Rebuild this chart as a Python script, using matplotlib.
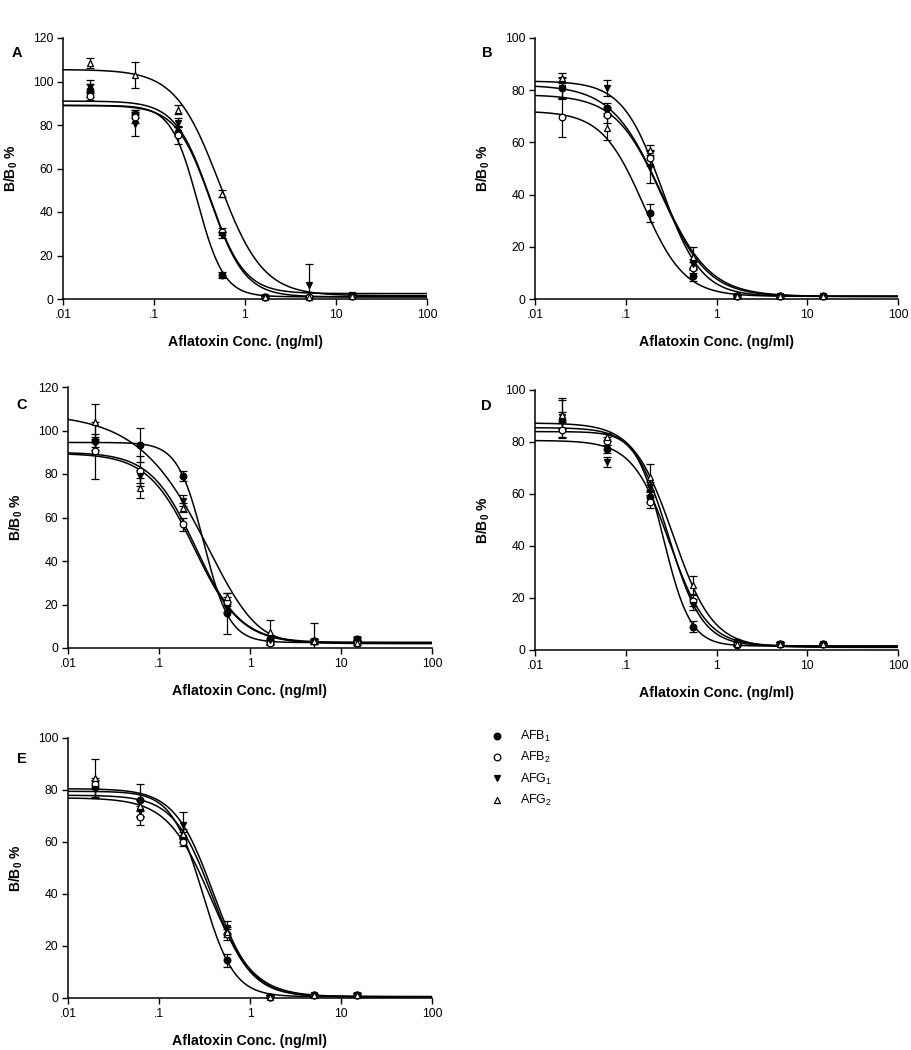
import matplotlib.pyplot as plt
import numpy as np
from matplotlib.lines import Line2D

# Aflatoxin standards (ng/ml), 3-fold dilutions
conc = [0.02, 0.0617, 0.185, 0.556, 1.67, 5.0, 15.0]
toxins = ['AFB$_1$', 'AFB$_2$', 'AFG$_1$', 'AFG$_2$']

# B/B0 % means and SD, rows = AFB1, AFB2, AFG1, AFG2
A_means = [[96.0, 85.0, 77.0, 11.0, 1.0, 1.0, 1.5],
           [93.3, 83.7, 75.4, 31.0, 1.0, 0.8, 1.5],
           [97.5, 80.5, 81.0, 29.5, 1.0, 6.3, 1.7],
           [108.5, 103.0, 87.0, 48.5, 1.0, 0.8, 1.5]]
A_errs = [[3, 2, 2, 1.5, 0.5, 0.5, 0.5],
          [2, 3, 4, 1.5, 0.5, 0.5, 0.5],
          [3, 5.5, 2, 1.5, 0.5, 10, 0.5],
          [2.5, 6, 2, 1.5, 0.5, 0.5, 0.5]]

B_means = [[80.8, 73.2, 33.0, 9.0, 1.0, 1.2, 1.2],
           [69.7, 70.5, 54.0, 12.0, 1.0, 1.0, 1.0],
           [81.0, 80.8, 50.6, 13.5, 1.0, 1.0, 1.0],
           [84.7, 65.5, 57.0, 16.0, 1.0, 1.0, 1.0]]
B_errs = [[4, 2, 3.5, 2, 0.5, 0.5, 0.5],
          [7.5, 3, 3, 2, 0.5, 0.5, 0.5],
          [4, 3, 6, 2, 0.5, 0.5, 0.5],
          [2, 4.5, 2, 4, 0.5, 0.5, 0.5]]

C_means = [[95.2, 93.3, 79.1, 16.0, 3.0, 3.2, 4.0],
           [90.7, 81.5, 57.0, 21.3, 2.5, 3.0, 2.5],
           [94.2, 79.0, 67.7, 18.4, 3.7, 3.0, 4.0],
           [104.0, 73.6, 64.5, 23.3, 7.5, 3.2, 2.5]]
C_errs = [[3, 8, 2.5, 9.5, 1, 1, 1],
          [13, 7, 3, 2, 1, 1, 1],
          [3, 3, 2.5, 2, 1, 1, 1],
          [8, 4.5, 2, 2, 5.5, 8.5, 1]]

D_means = [[88.5, 77.2, 59.0, 9.0, 2.0, 2.5, 2.3],
           [84.6, 80.5, 57.0, 19.0, 2.5, 2.5, 2.3],
           [89.5, 72.4, 62.8, 17.5, 3.0, 2.5, 2.3],
           [90.5, 82.0, 66.7, 25.0, 2.5, 2.5, 2.3]]
D_errs = [[3, 1.5, 2, 2, 0.5, 0.5, 0.5],
          [3, 1.5, 2.5, 2, 0.5, 0.5, 0.5],
          [7.5, 2, 2, 2, 0.5, 0.5, 0.5],
          [5.5, 1.5, 5, 3.5, 0.5, 0.5, 0.5]]

E_means = [[81.0, 76.0, 62.0, 14.5, 0.5, 1.0, 1.3],
           [82.5, 69.5, 60.0, 24.5, 0.5, 1.0, 1.3],
           [80.5, 72.0, 66.5, 27.0, 0.5, 1.0, 1.3],
           [84.5, 74.0, 63.0, 25.5, 0.5, 1.0, 1.3]]
E_errs = [[3, 6.5, 2, 2.5, 0.5, 0.5, 0.5],
          [2, 3, 1.5, 2, 0.5, 0.5, 0.5],
          [3, 2, 5, 2.5, 0.5, 0.5, 0.5],
          [7.5, 2, 2, 2, 0.5, 0.5, 0.5]]

# fitted logistic curves: top, bottom, IC50, slope, asymmetry
A_fits = [[89.0, 1.0, 0.30, 3.0, 1.0],
          [89.0, 1.0, 0.42, 2.3, 1.0],
          [91.0, 2.5, 0.41, 2.3, 1.0],
          [105.5, 1.5, 0.52, 1.8, 1.0]]
B_fits = [[72.0, 1.0, 0.155, 1.9, 1.0],
          [78.3, 1.0, 0.25, 1.7, 1.0],
          [83.5, 1.0, 0.25, 2.0, 1.0],
          [82.0, 1.0, 0.24, 1.6, 1.0]]
C_fits = [[94.5, 2.5, 0.31, 3.05, 1.0],
          [90.0, 2.5, 0.253, 1.76, 1.0],
          [108.0, 2.5, 1.79, 1.0, 5.0],
          [89.5, 2.0, 0.245, 1.7, 1.0]]
D_fits = [[84.0, 1.5, 0.261, 2.94, 1.0],
          [80.6, 1.5, 0.306, 2.11, 1.0],
          [85.5, 1.5, 0.298, 2.33, 1.0],
          [87.3, 1.0, 0.333, 1.98, 1.0]]
E_fits = [[79.5, 0.5, 0.303, 2.53, 1.0],
          [77.0, 0.5, 0.368, 1.82, 1.0],
          [80.5, 0.5, 0.394, 2.04, 1.0],
          [78.0, 0.5, 0.385, 2.04, 1.0]]

plt.rcParams['font.family'] = 'Liberation Sans'
plt.rcParams['mathtext.fontset'] = 'custom'
plt.rcParams['mathtext.rm'] = 'Liberation Sans'
plt.rcParams['mathtext.it'] = 'Liberation Sans:italic'
plt.rcParams['mathtext.bf'] = 'Liberation Sans:bold'


def logistic(x, top, bottom, ic50, slope, asym):
    return bottom + (top - bottom) / (1 + (x / ic50) ** slope) ** asym


marker_style = [('o', 'black'), ('o', 'white'), ('v', 'black'), ('^', 'white')]

W, H = 912, 1050
fig = plt.figure(figsize=(W / 100, H / 100), dpi=100)


def px_rect(left, top, right, bottom):
    return [left / W, 1 - bottom / H, (right - left) / W, (bottom - top) / H]


panels = [
    ('A', px_rect(63, 38, 427, 299), 120, A_means, A_errs, A_fits, (17, 53)),
    ('B', px_rect(535, 38, 898, 299), 100, B_means, B_errs, B_fits, (487, 53)),
    ('C', px_rect(68, 387, 432, 648), 120, C_means, C_errs, C_fits, (22, 405)),
    ('D', px_rect(535, 390, 898, 650), 100, D_means, D_errs, D_fits, (486, 406)),
    ('E', px_rect(68, 738, 432, 998), 100, E_means, E_errs, E_fits, (22, 759)),
]

xfit = np.logspace(-2, 2, 500)

for letter, rect, ymax, means, errs, fits, lpos in panels:
    ax = fig.add_axes(rect)
    for (mk, fc), m, e, p in zip(marker_style, means, errs, fits):
        ax.plot(xfit, logistic(xfit, *p), color='black', lw=1.1, zorder=2)
        line, caps, bars = ax.errorbar(conc, m, yerr=e, fmt=mk, ms=4.8, mfc=fc,
                                       mec='black', mew=0.9, ecolor='black',
                                       elinewidth=0.9, capsize=3, capthick=0.9,
                                       zorder=3)
        line.set_clip_on(False)
    ax.set_xscale('log')
    ax.set_xlim(0.01, 100)
    ax.set_ylim(0, ymax)
    ax.set_xticks([0.01, 0.1, 1, 10, 100])
    ax.set_xticklabels(['.01', '.1', '1', '10', '100'])
    ax.xaxis.set_minor_locator(plt.NullLocator())
    ax.set_yticks(np.arange(0, ymax + 1, 20))
    ax.tick_params(direction='out', length=4, width=1, labelsize=8.8, pad=3)
    for s in ['top', 'right']:
        ax.spines[s].set_visible(False)
    for s in ['left', 'bottom']:
        ax.spines[s].set_linewidth(1.1)
    ax.set_xlabel('Aflatoxin Conc. (ng/ml)', fontsize=10.2, fontweight='bold')
    ax.set_ylabel(r'B/B$_\mathbf{0}$ %', fontsize=10, fontweight='bold')
    ax.xaxis.set_label_coords(0.5, -0.138)
    ax.yaxis.set_label_coords(-0.118, 0.5)
    fig.text(lpos[0] / W, 1 - lpos[1] / H, letter, fontsize=10.5,
             fontweight='bold', ha='center', va='center')

handles = [Line2D([], [], ls='none', marker=mk, ms=4.8, mfc=fc, mec='black', mew=0.9)
           for mk, fc in marker_style]
fig.legend(handles, toxins, loc='upper left', bbox_to_anchor=(490 / W, 1 - 729 / H),
           frameon=False, fontsize=9, handlelength=1.2, handletextpad=1.2,
           labelspacing=0.5, borderpad=0, borderaxespad=0)

fig.savefig('out.png', dpi=100)
